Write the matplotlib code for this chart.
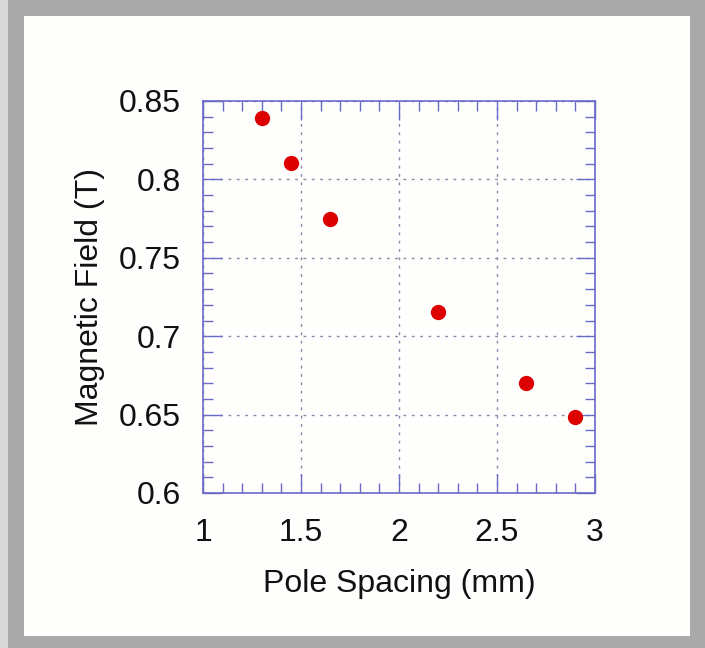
import matplotlib
matplotlib.use("Agg")
from matplotlib import pyplot as plt
from matplotlib.patches import Rectangle
from matplotlib.ticker import MultipleLocator

plt.rcParams["font.family"] = ["Liberation Sans", "DejaVu Sans"]

# data
pole_spacing = [1.3, 1.45, 1.65, 2.2, 2.65, 2.9]
magnetic_field = [0.839, 0.8105, 0.775, 0.7155, 0.670, 0.6485]
x_ticks = [1, 1.5, 2, 2.5, 3]
x_labels = ["1", "1.5", "2", "2.5", "3"]
y_ticks = [0.6, 0.65, 0.7, 0.75, 0.8, 0.85]
y_labels = ["0.6", "0.65", "0.7", "0.75", "0.8", "0.85"]

W, H = 705, 648
fig = plt.figure(figsize=(W / 100, H / 100), dpi=100)
fig.patch.set_facecolor("#a9a9a9")
fig.patches.append(Rectangle((0, 0), 8 / W, 1, transform=fig.transFigure,
                             facecolor="#d8d8d8", edgecolor="none", zorder=-2))
fig.patches.append(Rectangle((24 / W, 1 - 636 / H), 666 / W, 620 / H,
                             transform=fig.transFigure, facecolor="#fefefc",
                             edgecolor="none", zorder=-2))

ax = fig.add_axes([203 / W, 1 - 493 / H, 392 / W, 392 / H])
ax.set_facecolor("none")
axis_col = "#6a6ac8"

ax.plot(pole_spacing, magnetic_field, "o", color="#dd0000", markersize=11,
        markeredgewidth=0, zorder=3)

ax.set_xlim(1, 3)
ax.set_ylim(0.6, 0.85)
ax.set_xticks(x_ticks)
ax.set_xticklabels(x_labels)
ax.set_yticks(y_ticks)
ax.set_yticklabels(y_labels)
ax.xaxis.set_minor_locator(MultipleLocator(0.1))
ax.yaxis.set_minor_locator(MultipleLocator(0.01))

ax.tick_params(which="both", direction="in", top=True, right=True,
               color=axis_col, labelsize=23, labelcolor="#111111")
ax.tick_params(which="major", length=14, width=1)
ax.tick_params(axis="x", which="major", pad=18)
ax.tick_params(axis="y", which="major", pad=16)
ax.tick_params(which="minor", length=7, width=1)
for s in ax.spines.values():
    s.set_color(axis_col)
    s.set_linewidth(1.2)

ax.grid(True, which="major", color="#8888aa", linestyle=(0, (2, 4)),
        linewidth=1)

ax.set_xlabel("Pole Spacing (mm)", fontsize=23, labelpad=15, color="#111111")
ax.set_ylabel("Magnetic Field (T)", fontsize=23, labelpad=10, color="#111111")

fig.savefig("out.png", dpi=100, facecolor=fig.get_facecolor())
